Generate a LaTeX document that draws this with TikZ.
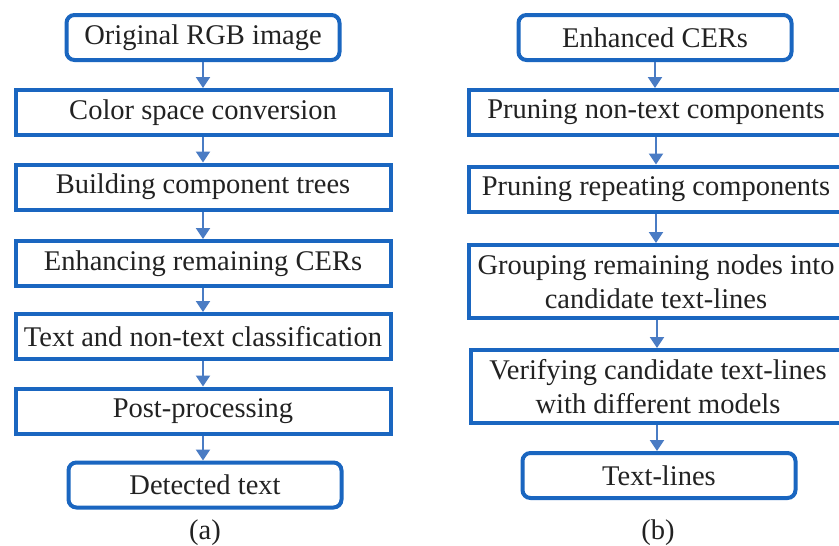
\documentclass[tikz,border=0pt]{standalone}
\usepackage{fontspec}
\setmainfont{Liberation Serif}
\usetikzlibrary{arrows.meta}
\definecolor{boxblue}{HTML}{1A66C0}
\definecolor{arrblue}{HTML}{4A7CC4}
\definecolor{txt}{HTML}{222222}
\begin{document}
\begin{tikzpicture}[x=1pt,y=-1pt,
  every node/.style={font=\fontsize{28.5}{34}\selectfont, text=txt},
  rbox/.style={draw=boxblue, line width=4pt, minimum width=375pt, minimum height=45pt, inner sep=1pt, align=center, fill=white},
  tallbox/.style={rbox, minimum height=73pt},
  endbox/.style={rbox, rounded corners=8pt, minimum width=273pt},
  flow/.style={draw=arrblue, line width=2pt, -{Triangle[width=14pt,length=11pt]}}
]
\useasboundingbox (0,0) rectangle (839,546);
\clip (0,0) rectangle (839,546);
\fill[white] (0,0) rectangle (839,546);

% left column
\node[endbox] (a1) at (203,37.5) {Original RGB image};
\node[rbox] (a2) at (203,112.5) {Color space conversion};
\node[rbox] (a3) at (203,187) {Building component trees};
\node[rbox] (a4) at (203,263.5) {Enhancing remaining CERs};
\node[rbox] (a5) at (203,336.5) {Text and non-text classification};
\node[rbox] (a6) at (203,411) {Post-processing};
\node[endbox] (a7) at (205,485) {Detected text};
\node (ca) at (205,533) {(a)};

% right column
\node[endbox] (b1) at (655,37.5) {Enhanced CERs};
\node[rbox] (b2) at (656,112.5) {Pruning non-text components};
\node[rbox] (b3) at (656,189) {Pruning repeating components};
\node[tallbox] (b4) at (656,281.5) {Grouping remaining nodes into\\candidate text-lines};
\node[tallbox] (b5) at (658,386.5) {Verifying candidate text-lines\\with different models};
\node[endbox] (b6) at (659,475.5) {Text-lines};
\node (cb) at (658,533) {(b)};

\foreach \u/\v in {a1/a2,a2/a3,a3/a4,a4/a5,a5/a6,a6/a7}
  \draw[flow] (\u.south -| 203,0) -- (\v.north -| 203,0);
\draw[flow] (b1.south -| 655,0) -- (b2.north -| 655,0);
\draw[flow] (b2.south -| 656,0) -- (b3.north -| 656,0);
\draw[flow] (b3.south -| 656,0) -- (b4.north -| 656,0);
\draw[flow] (b4.south -| 657,0) -- (b5.north -| 657,0);
\draw[flow] (b5.south -| 657,0) -- (b6.north -| 657,0);
\end{tikzpicture}
\end{document}
